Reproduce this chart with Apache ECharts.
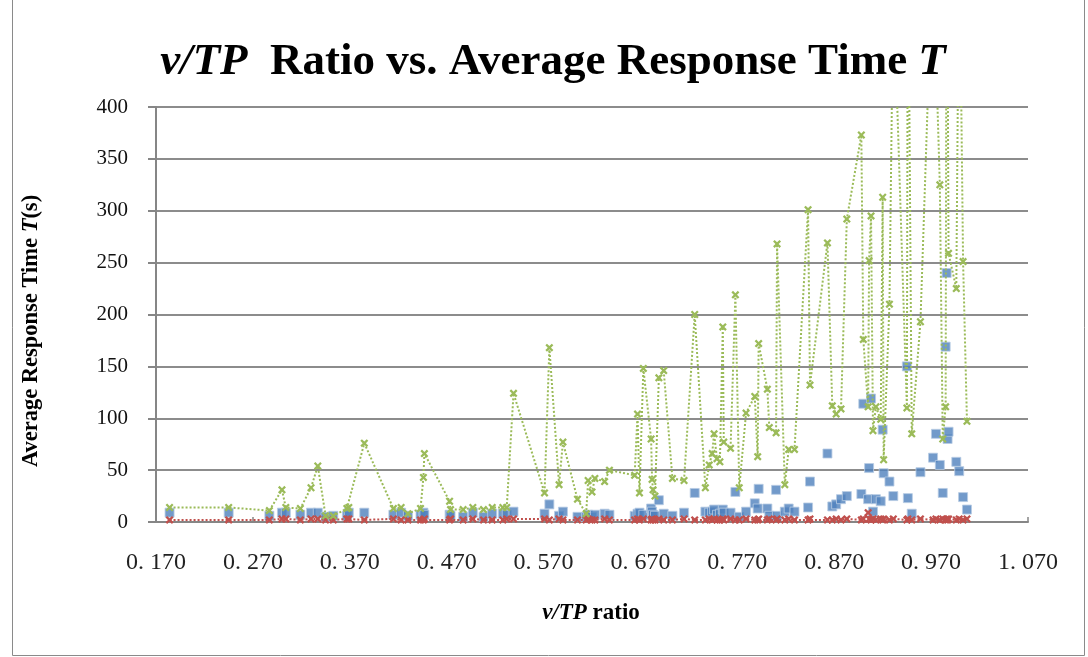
<!DOCTYPE html>
<html>
<head>
<meta charset="utf-8">
<script src="https://cdn.jsdelivr.net/npm/echarts@6/dist/echarts.min.js"></script>
<style>
html,body{margin:0;padding:0;background:#fff;}
#chart{width:1088px;height:657px;}
</style>
</head>
<body>
<div id="chart"></div>
<script>
// v/TP ratio (x) for each observation
const ratios = [
0.184,0.245,0.287,0.300,0.304,0.319,0.330,0.337,0.345,0.353,
0.367,0.369,0.385,0.415,0.423,0.430,0.443,0.446,0.447,0.473,
0.474,0.487,0.497,0.508,0.517,0.528,0.532,0.539,0.571,0.576,
0.586,0.590,0.605,0.614,0.616,0.620,0.623,0.633,0.638,0.664,
0.667,0.669,0.673,0.681,0.682,0.683,0.685,0.689,0.694,0.703,
0.715,0.726,0.737,0.741,0.744,0.746,0.749,0.752,0.755,0.756,
0.763,0.768,0.772,0.779,0.788,0.791,0.792,0.801,0.803,0.810,
0.811,0.819,0.823,0.829,0.843,0.845,0.863,0.868,0.872,0.877,
0.883,0.898,0.900,0.905,0.906,0.908,0.910,0.913,0.918,0.920,
0.921,0.927,0.931,0.945,0.946,0.950,0.959,0.972,0.975,0.979,
0.982,0.985,0.986,0.987,0.988,0.996,0.999,1.003,1.007
];
// blue squares
const blueT = [
9,9,6,9,9,7,9,9,5,6,
6,9,9,7,9,6,7,9,7,7,
6,5,9,5,8,8,7,10,8,17,
6,10,5,5,7,5,7,8,7,6,
8,9,7,13,10,7,6,21,8,6,
9,28,10,9,10,12,7,8,12,9,
9,29,5,10,18,13,32,13,6,31,
6,10,13,10,14,39,66,15,17,22,
25,27,114,22,52,119,10,22,20,89,
47,39,25,150,23,8,48,62,85,55,
28,169,240,80,87,58,49,24,12
];
// red crosses
const redT = [
2,2,2,3,3,2,3,3,2,2,
3,3,2,3,2,2,2,2,3,2,
3,2,3,2,2,2,3,3,3,2,
3,2,2,2,3,2,2,3,2,2,
3,2,3,2,3,2,2,3,2,2,
3,2,2,3,2,3,2,2,3,2,
3,2,2,3,2,2,3,2,3,2,
3,2,3,2,2,3,2,2,3,2,
3,2,3,9,3,2,3,2,3,2,
3,2,3,2,3,2,3,2,3,2,
3,2,3,2,3,2,3,2,3
];
// green crosses (dotted line)
const greenT = [
14,14,11,31,14,13,33,54,6,6,
13,14,76,13,14,8,13,43,66,20,
12,12,14,12,14,14,14,124,28,168,
36,77,22,8,40,29,42,39,50,45,
104,28,148,80,41,31,25,139,146,42,
40,200,33,55,66,85,61,58,188,77,
71,219,33,105,121,63,172,128,91,86,
268,36,70,70,301,132,269,112,104,109,
292,373,176,111,252,295,88,111,99,313,
60,210,520,110,600,85,193,560,450,325,
80,111,620,480,259,225,580,251,97
];
const yTicks = [0,50,100,150,200,250,300,350,400];

const pair = (ys) => ratios.map((x, i) => [x, ys[i]]);
const X_PATH = 'path://M2,0L5,3L8,0L10,2L7,5L10,8L8,10L5,7L2,10L0,8L3,5L0,2Z';
const serif = '"Liberation Serif","Times New Roman",serif';

const chart = echarts.init(document.getElementById('chart'));
chart.setOption({
  animation: false,
  backgroundColor: '#fff',
  grid: { left: 156, right: 60, top: 107, bottom: 135 },
  xAxis: {
    type: 'value', min: 0.17, max: 1.07, interval: 0.1,
    axisLine: { show: true, lineStyle: { color: '#868686', width: 2 } },
    axisTick: { show: true, inside: true, length: 5, lineStyle: { color: '#868686', width: 1.5 } },
    splitLine: { show: false },
    axisLabel: {
      margin: 29, fontFamily: serif, fontSize: 24, color: '#222',
      formatter: v => { const s = v.toFixed(3); return s.replace('.', '. '); }
    }
  },
  yAxis: {
    type: 'value', min: 0, max: 400, interval: 50,
    axisLine: { show: true, lineStyle: { color: '#868686', width: 2 } },
    axisTick: { show: true, inside: false, length: 8, lineStyle: { color: '#868686', width: 2 } },
    splitLine: { show: true, lineStyle: { color: '#8c8c8c', width: 2 } },
    axisLabel: { margin: 28, fontFamily: serif, fontSize: 21, color: '#111',
      formatter: v => yTicks.includes(v) ? String(v) : '' }
  },
  series: [
    {
      name: 'blue', type: 'scatter', data: pair(blueT),
      symbol: 'rect', symbolSize: 9,
      itemStyle: { color: '#4F81BD', borderColor: '#B8CCE4', borderWidth: 1 },
      z: 2
    },
    {
      name: 'red', type: 'line', data: pair(redT),
      symbol: X_PATH, symbolSize: 8, showAllSymbol: true,
      lineStyle: { color: '#C0504D', width: 2, type: [2, 2] },
      itemStyle: { color: '#C0504D' },
      z: 3
    },
    {
      name: 'green', type: 'line', data: pair(greenT),
      symbol: X_PATH, symbolSize: 8, showAllSymbol: true, clip: true,
      lineStyle: { color: '#9BBB59', width: 2, type: [2, 2] },
      itemStyle: { color: '#9BBB59' },
      z: 4
    }
  ],
  graphic: [
    { type: 'rect', shape: { x: 12.5, y: -1, width: 1072, height: 656.5 },
      style: { fill: null, stroke: '#8a8a8a', lineWidth: 1 }, silent: true },
    { type: 'text', x: 553, y: 62,
      style: {
        text: '{i|v/TP}{n|  Ratio vs. Average Response Time }{i|T}',
        textAlign: 'center', textVerticalAlign: 'middle',
        rich: {
          i: { fontFamily: serif, fontSize: 45, fontWeight: 'bold', fontStyle: 'italic', fill: '#000' },
          n: { fontFamily: serif, fontSize: 45, fontWeight: 'bold', fill: '#000' }
        }
      } },
    { type: 'text', x: 31, y: 331, rotation: Math.PI / 2,
      style: {
        text: '{n|Average Response Time }{i|T}{n|(s)}',
        textAlign: 'center', textVerticalAlign: 'middle',
        rich: {
          i: { fontFamily: serif, fontSize: 22.5, fontWeight: 'bold', fontStyle: 'italic', fill: '#000' },
          n: { fontFamily: serif, fontSize: 22.5, fontWeight: 'bold', fill: '#000' }
        }
      } },
    { type: 'text', x: 591, y: 613,
      style: {
        text: '{i|v/TP}{n| ratio}',
        textAlign: 'center', textVerticalAlign: 'middle',
        rich: {
          i: { fontFamily: serif, fontSize: 23, fontWeight: 'bold', fontStyle: 'italic', fill: '#000' },
          n: { fontFamily: serif, fontSize: 23, fontWeight: 'bold', fill: '#000' }
        }
      } }
  ]
});
</script>
</body>
</html>
